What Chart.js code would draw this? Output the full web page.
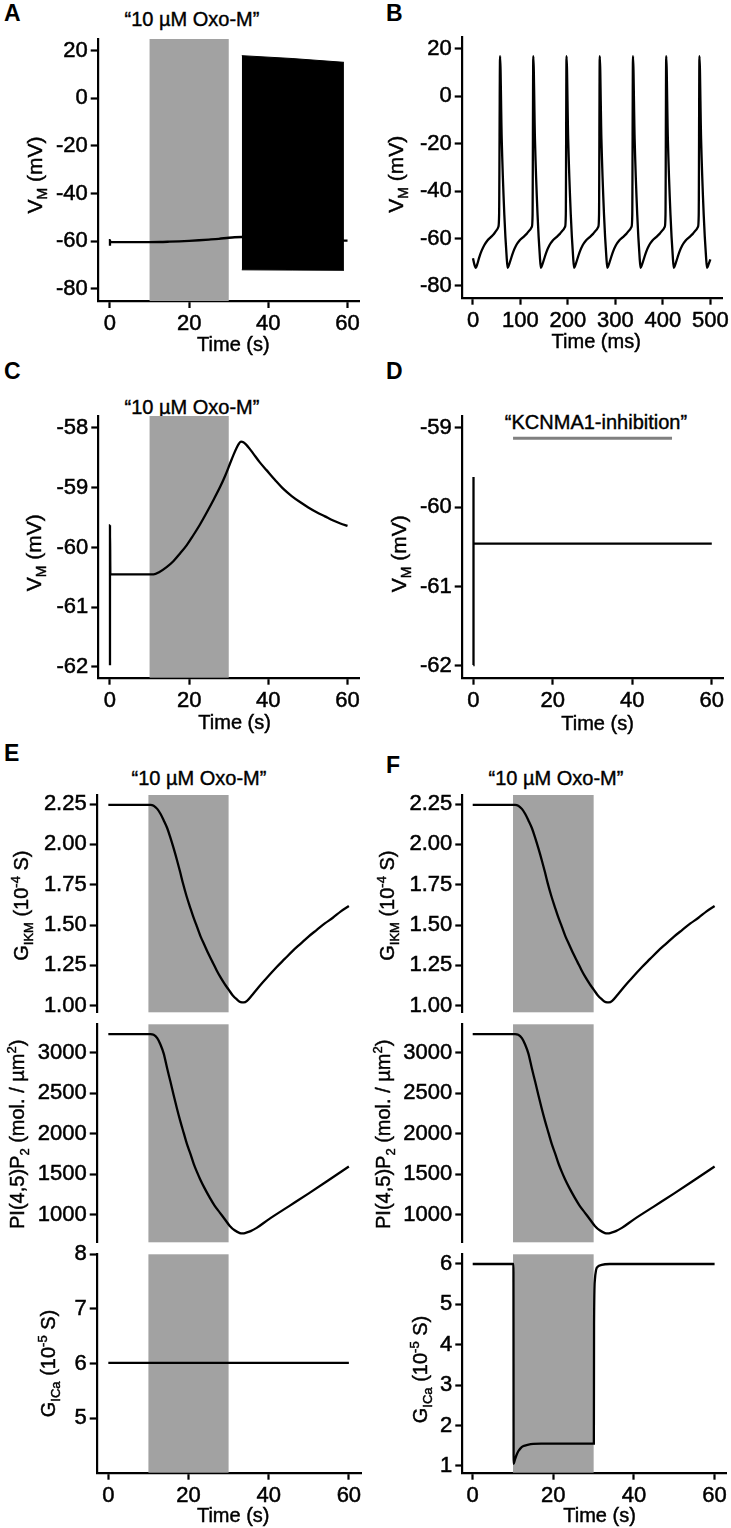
<!DOCTYPE html>
<html><head><meta charset="utf-8">
<script src="https://cdn.jsdelivr.net/npm/chart.js@4.4.0/dist/chart.umd.min.js"></script>
<style>
html,body{margin:0;padding:0;background:#fff;}
body{width:731px;height:1528px;position:relative;overflow:hidden;font-family:"Liberation Sans",Arial,sans-serif;color:#000;}
canvas{position:absolute;}
.lbl{position:absolute;font-weight:bold;font-size:23px;line-height:23px;white-space:nowrap;}
.ttl{position:absolute;font-size:20px;line-height:20px;text-align:center;width:240px;white-space:nowrap;-webkit-text-stroke:0.4px #000;}
</style></head><body>
<div class="lbl" style="left:4px;top:2px">A</div>
<div class="lbl" style="left:386px;top:2px">B</div>
<div class="lbl" style="left:4px;top:360px">C</div>
<div class="lbl" style="left:386px;top:360px">D</div>
<div class="lbl" style="left:4px;top:742px">E</div>
<div class="lbl" style="left:386px;top:754px">F</div>
<div class="ttl" style="left:72px;top:9px">“10 µM Oxo-M”</div>
<div class="ttl" style="left:72px;top:397px">“10 µM Oxo-M”</div>
<div class="ttl" style="left:476px;top:412px">“KCNMA1-inhibition”</div>
<div class="ttl" style="left:79px;top:768px">“10 µM Oxo-M”</div>
<div class="ttl" style="left:436px;top:768px">“10 µM Oxo-M”</div>
<script>
const FONT = '"Liberation Sans", Arial, sans-serif';
Chart.defaults.font.family = FONT;
Chart.defaults.color = '#000';

// ---------- shared ----------
const stimWindow = [10, 30];            // Oxo-M application (s)
const inhibitionWindow = [10, 50];      // KCNMA1 inhibition (s)
const inhibitionBarLevel = -59.13;      // mV level of the bar
const timeTicks60 = [0, 20, 40, 60];

// ---------- Panel A ----------
const aTraceTime = [0, 0, 0.1, 5, 10, 12.5, 15, 17.5, 20, 22.5, 25, 27.5, 30, 31.5, 33.3, 59.1, 60];
const aTraceVm   = [-62.0, -59.6, -60.45, -60.45, -60.45, -60.41, -60.28, -60.12, -59.92, -59.68, -59.38, -59.05, -58.62, -58.42, -58.3, -59.8, -59.8];
const aBurstTime   = [33.3, 46, 59.1];
const aBurstTop    = [17.9, 16.7, 15.1];
const aBurstBottom = [-72.1, -72.2, -72.3];
const aYTicks = [-80, -60, -40, -20, 0, 20];

// ---------- Panel B ----------
const bTime = [0, 3, 6, 9, 13, 18, 24, 30, 37, 44, 50, 53.5, 55, 57, 60.5, 66, 71, 73,
  76, 80, 85, 91, 98, 105, 113, 120, 124, 125.5, 127, 130.5, 136, 141, 143,
  146, 150, 155, 161, 168, 175, 183, 190, 194, 195.5, 197, 200.5, 206, 211, 213,
  216, 220, 225, 231, 238, 245, 253, 260, 264, 265.5, 267, 270.5, 276, 281, 283,
  286, 290, 295, 301, 308, 315, 323, 330, 334, 335.5, 337, 340.5, 346, 351, 353,
  356, 360, 365, 371, 378, 385, 393, 400, 404, 405.5, 407, 410.5, 416, 421, 423,
  426, 430, 435, 441, 448, 455, 463, 470, 474, 475.5, 477, 480.5, 486, 491, 493,
  496, 500];
const bVm = [-68.3, -71.0, -72.3, -70.8, -68.0, -65.2, -62.7, -60.9, -59.5, -58.1, -56.4, -55.0, -50.0, 17.0, -18.0, -50.0, -68.0, -72.3,
  -71.0, -68.5, -65.5, -62.8, -60.8, -59.5, -58.0, -56.3, -55.0, -50.0, 17.0, -18.0, -50.0, -68.0, -72.3,
  -71.0, -68.5, -65.5, -62.8, -60.8, -59.5, -58.0, -56.3, -55.0, -50.0, 17.0, -18.0, -50.0, -68.0, -72.3,
  -71.0, -68.5, -65.5, -62.8, -60.8, -59.5, -58.0, -56.3, -55.0, -50.0, 17.0, -18.0, -50.0, -68.0, -72.3,
  -71.0, -68.5, -65.5, -62.8, -60.8, -59.5, -58.0, -56.3, -55.0, -50.0, 17.0, -18.0, -50.0, -68.0, -72.3,
  -71.0, -68.5, -65.5, -62.8, -60.8, -59.5, -58.0, -56.3, -55.0, -50.0, 17.0, -18.0, -50.0, -68.0, -72.3,
  -71.0, -68.5, -65.5, -62.8, -60.8, -59.5, -58.0, -56.3, -55.0, -50.0, 17.0, -18.0, -50.0, -68.0, -72.3,
  -71.0, -68.8];
const bXTicks = [0, 100, 200, 300, 400, 500];
const bYTicks = [-80, -60, -40, -20, 0, 20];

// ---------- Panel C ----------
const cTime = [0, 0, 0.1, 11, 12.5, 14.3, 16, 17.7, 19.4, 21, 22.7, 24.4, 26.1, 27.8, 29.1, 30.3, 31.2, 32, 32.6, 33.1, 33.7, 34.4, 35.3, 36.2, 37.9, 39.6, 41.7, 43.8, 45.9, 48, 50.1, 52.2, 54.3, 56.4, 58.2, 60];
const cVm   = [-61.97, -59.63, -60.45, -60.45, -60.41, -60.33, -60.23, -60.10, -59.96, -59.80, -59.62, -59.42, -59.21, -58.99, -58.80, -58.60, -58.45, -58.33, -58.26, -58.23, -58.24, -58.28, -58.35, -58.43, -58.58, -58.71, -58.87, -59.02, -59.14, -59.24, -59.33, -59.41, -59.48, -59.55, -59.60, -59.64];
const cYTicks = [-62, -61, -60, -59, -58];

// ---------- Panel D ----------
const dTime = [0, 0, 0.1, 10, 50, 60];
const dVm   = [-61.99, -59.62, -60.46, -60.46, -60.46, -60.46];
const dYTicks = [-62, -61, -60, -59];

// ---------- Panels E/F (top, middle) ----------
const kmTime = [0, 10.5, 11.3, 12.2, 13, 13.8, 14.7, 15.5, 16.3, 17.1, 17.9, 18.6, 19.5, 20.4, 21.2, 22.1, 23, 24, 25, 26, 27, 28, 29, 30, 31, 32, 33, 33.8, 34.6, 36, 38, 40, 42, 44, 46, 48, 50, 52, 54, 56, 58, 60];
const kmG    = [2.245, 2.245, 2.24, 2.22, 2.19, 2.15, 2.10, 2.04, 1.975, 1.905, 1.83, 1.76, 1.68, 1.61, 1.55, 1.49, 1.43, 1.375, 1.32, 1.27, 1.22, 1.175, 1.135, 1.10, 1.065, 1.04, 1.022, 1.02, 1.03, 1.07, 1.13, 1.185, 1.24, 1.29, 1.34, 1.385, 1.43, 1.47, 1.51, 1.545, 1.585, 1.618];
const kmTicks = [1.00, 1.25, 1.50, 1.75, 2.00, 2.25];

const pipTime = [0, 10.5, 11.3, 12.2, 13, 13.8, 14.7, 15.5, 16.3, 17.1, 17.9, 18.8, 19.6, 20.5, 21.3, 22.1, 22.9, 24, 25.3, 26.5, 27.8, 29, 30.3, 31.5, 32.8, 33.5, 34.4, 35.5, 37, 40, 45, 50, 55, 60];
const pipConc = [3227, 3227, 3220, 3178, 3100, 2990, 2800, 2640, 2475, 2315, 2165, 2010, 1875, 1750, 1630, 1530, 1440, 1330, 1213, 1115, 1028, 950, 864, 810, 776, 772, 781, 800, 840, 945, 1105, 1265, 1430, 1597];
const pipTicks = [1000, 1500, 2000, 2500, 3000];

// ---------- E bottom ----------
const eCaTime = [0, 60];
const eCaG    = [6.01, 6.01];
const eCaTicks = [5, 6, 7, 8];

// ---------- F bottom ----------
const fCaTime = [0, 10.1, 10.15, 10.4, 10.8, 11.3, 11.9, 12.6, 13.6, 15, 17, 20, 25, 30.05, 30.1, 30.3, 30.6, 31, 32, 34, 60];
const fCaG    = [6, 6, 1.05, 1.13, 1.25, 1.36, 1.44, 1.49, 1.52, 1.545, 1.55, 1.55, 1.55, 1.55, 4.5, 5.6, 5.85, 5.93, 5.98, 6.0, 6.0];
const fCaTicks = [1, 2, 3, 4, 5, 6];

// ---------- helpers ----------
const LW = 2.3;
const pts = (xs, ys) => xs.map((x, i) => ({x: x, y: ys[i]}));
const trace = (xs, ys, extra) => Object.assign({
  data: pts(xs, ys), borderColor: '#000', borderWidth: LW, pointRadius: 0,
  fill: false, cubicInterpolationMode: 'monotone'
}, extra || {});

function shadePlugin(win, color) {
  return {
    id: 'shade',
    beforeDatasetsDraw(chart) {
      const a = chart.chartArea, x = chart.scales.x, ctx = chart.ctx;
      const x0 = x.getPixelForValue(win[0]), x1 = x.getPixelForValue(win[1]);
      ctx.save(); ctx.fillStyle = color;
      ctx.fillRect(x0, a.top, x1 - x0, a.bottom - a.top);
      ctx.restore();
    }
  };
}
function yTitlePlugin(parts, cx, dy, fs) {
  return {
    id: 'ytitle',
    afterDraw(chart) {
      const ctx = chart.ctx, a = chart.chartArea;
      const cy = (a.top + a.bottom) / 2 + dy;
      const small = Math.round(fs * 0.65);
      const fontFor = t => (t === 'n' ? fs : small) + 'px ' + FONT;
      ctx.save();
      ctx.translate(cx + 0.358 * fs, cy);
      ctx.rotate(-Math.PI / 2);
      ctx.fillStyle = '#000'; ctx.strokeStyle = '#000'; ctx.lineWidth = 0.45;
      ctx.textBaseline = 'alphabetic'; ctx.textAlign = 'left';
      let total = 0;
      parts.forEach(p => { ctx.font = fontFor(p[0]); total += ctx.measureText(p[1]).width; });
      let x = -total / 2;
      parts.forEach(p => {
        ctx.font = fontFor(p[0]);
        const off = p[0] === 'b' ? 0.24 * fs : (p[0] === 'p' ? -0.42 * fs : 0);
        ctx.fillText(p[1], x, off);
        ctx.strokeText(p[1], x, off);
        x += ctx.measureText(p[1]).width;
      });
      ctx.restore();
    }
  };
}
// x-axis title drawn below the tick labels
function xTitlePlugin(text, dx, capTop) {
  return {
    id: 'xtitle',
    afterDraw(chart) {
      const ctx = chart.ctx, a = chart.chartArea, fs = 20;
      ctx.save();
      ctx.font = fs + 'px ' + FONT;
      ctx.fillStyle = '#000'; ctx.strokeStyle = '#000'; ctx.lineWidth = 0.45;
      ctx.textAlign = 'center'; ctx.textBaseline = 'alphabetic';
      const x = (a.left + a.right) / 2 + dx, y = a.bottom + capTop + 0.716 * fs;
      ctx.fillText(text, x, y); ctx.strokeText(text, x, y);
      ctx.restore();
    }
  };
}
const axisGrid = {display: true, drawOnChartArea: false, drawTicks: true, tickLength: 7, tickWidth: 2.2, tickColor: '#000', color: '#000'};
const axisBorder = {display: true, color: '#000', width: 2.2};
const XH = 55, YW = 62;
const tickFont = {size: 22};

function xScale(min, max, ticks, show) {
  return {
    type: 'linear', min: min, max: max, display: show,
    afterBuildTicks: s => { s.ticks = ticks.map(v => ({value: v})); },
    afterFit: s => { s.height = show ? XH : 0; s.paddingLeft = 0; s.paddingRight = 0; },
    grid: axisGrid, border: axisBorder,
    ticks: {autoSkip: false, maxRotation: 0, minRotation: 0, padding: 3, font: tickFont, color: '#000',
            textStrokeColor: '#000', textStrokeWidth: 0.5, callback: v => String(v)},
    title: {display: false}
  };
}
function yScale(min, max, ticks, fmt) {
  return {
    type: 'linear', min: min, max: max,
    afterBuildTicks: s => { s.ticks = ticks.map(v => ({value: v})); },
    afterFit: s => { s.width = YW; s.paddingTop = 0; s.paddingBottom = 0; },
    grid: axisGrid, border: axisBorder,
    ticks: {autoSkip: false, padding: 3, font: tickFont, color: '#000',
            textStrokeColor: '#000', textStrokeWidth: 0.5, callback: fmt || (v => String(v))}
  };
}

// box: canvas left/top/width/height and target chart area (page px)
function panel(box, xs, ys, datasets, plugins) {
  const cv = document.createElement('canvas');
  cv.width = box.cw; cv.height = box.ch;
  cv.style.left = box.cl + 'px'; cv.style.top = box.ct + 'px';
  cv.style.width = box.cw + 'px'; cv.style.height = box.ch + 'px';
  document.body.appendChild(cv);
  const showX = xs.display !== false;
  const padding = {
    left: box.l - box.cl - YW,
    right: box.cl + box.cw - box.r,
    top: box.t - box.ct,
    bottom: box.ct + box.ch - box.b - (showX ? XH : 0)
  };
  new Chart(cv, {
    type: 'line',
    data: {datasets: datasets},
    options: {
      responsive: false, animation: false, events: [],
      devicePixelRatio: 1,
      layout: {padding: padding},
      scales: {x: xs, y: ys},
      plugins: {legend: {display: false}, tooltip: {enabled: false}}
    },
    plugins: plugins
  });
}

const GRAY = '#a2a2a2';
const VM = [['n', 'V'], ['b', 'M'], ['n', ' (mV)']];
const GKM = [['n', 'G'], ['b', 'IKM'], ['n', ' (10'], ['p', '-4'], ['n', ' S)']];
const PIP = [['n', 'PI(4,5)P'], ['b', '2'], ['n', ' (mol. / µm'], ['p', '2'], ['n', ')']];
const GCA = [['n', 'G'], ['b', 'ICa'], ['n', ' (10'], ['p', '-5'], ['n', ' S)']];

// A
panel({cl: 0, ct: 28, cw: 366, ch: 334, l: 97.7, r: 359, t: 39, b: 301},
  xScale(-3.1, 62.9, timeTicks60, true),
  yScale(-85.2, 24.9, aYTicks),
  [trace(aTraceTime, aTraceVm),
   {data: pts(aBurstTime, aBurstTop), borderColor: '#000', borderWidth: 1, pointRadius: 0, fill: '+1', backgroundColor: '#000', tension: 0},
   {data: pts(aBurstTime, aBurstBottom), borderColor: '#000', borderWidth: 1, pointRadius: 0, fill: false, tension: 0}],
  [shadePlugin(stimWindow, GRAY), yTitlePlugin(VM, 34, 5, 21), xTitlePlugin('Time (s)', 5, 36)]);

// B
panel({cl: 366, ct: 28, cw: 365, ch: 334, l: 461.7, r: 722.7, t: 37, b: 297.7},
  xScale(-23.8, 526, bXTicks, true),
  yScale(-84.94, 25.06, bYTicks),
  [trace(bTime, bVm)],
  [yTitlePlugin(VM, 29, 7, 21), xTitlePlugin('Time (ms)', 4, 35.5)]);

// C
panel({cl: 0, ct: 405, cw: 366, ch: 340, l: 98.3, r: 359, t: 416, b: 677.7},
  xScale(-2.95, 62.9, timeTicks60, true),
  yScale(-62.18, -57.80, cYTicks),
  [trace(cTime, cVm)],
  [shadePlugin(stimWindow, GRAY), yTitlePlugin(VM, 33, 6, 21), xTitlePlugin('Time (s)', 6, 37)]);

// D
panel({cl: 366, ct: 405, cw: 365, ch: 340, l: 461.7, r: 723.3, t: 416, b: 677.7},
  xScale(-2.92, 62.9, timeTicks60, true),
  yScale(-62.15, -58.85, dYTicks),
  [trace(dTime, dVm, {cubicInterpolationMode: 'default', tension: 0}),
   {data: pts(inhibitionWindow, [inhibitionBarLevel, inhibitionBarLevel]), borderColor: '#808080', borderWidth: 3, pointRadius: 0, fill: false}],
  [yTitlePlugin(VM, 32, 7, 21), xTitlePlugin('Time (s)', 5, 38)]);

// E and F stacks
function stack(cl, cw, l, r, xmin, xmax, caData, caTicks, caMin, caMax, caX, caDy, tdx) {
  panel({cl: cl, ct: 782, cw: cw, ch: 238, l: l, r: r, t: 795, b: 1012.3},
    xScale(xmin, xmax, timeTicks60, false),
    yScale(0.959, 2.306, kmTicks, v => v.toFixed(2)),
    [trace(kmTime, kmG)],
    [shadePlugin(stimWindow, GRAY), yTitlePlugin(GKM, 21, 2, 20)]);
  panel({cl: cl, ct: 1010, cw: cw, ch: 240, l: l, r: r, t: 1024.3, b: 1242.3},
    xScale(xmin, xmax, timeTicks60, false),
    yScale(662, 3349, pipTicks),
    [trace(pipTime, pipConc)],
    [shadePlugin(stimWindow, GRAY), yTitlePlugin(PIP, 17, 1, 20)]);
  panel({cl: cl, ct: 1238, cw: cw, ch: 290, l: l, r: r, t: 1254.3, b: 1472.7},
    xScale(xmin, xmax, timeTicks60, true),
    yScale(caMin, caMax, caTicks),
    [caData],
    [shadePlugin(stimWindow, GRAY), yTitlePlugin(GCA, caX, caDy, 20), xTitlePlugin('Time (s)', tdx, 34.5)]);
}
stack(0, 366, 96.7, 361.7, -2.9, 63.2, trace(eCaTime, eCaG, {cubicInterpolationMode: 'default', tension: 0}), eCaTicks, 4, 8, 48, 0, 4);
stack(366, 365, 462.3, 726.7, -2.58, 63.0, trace(fCaTime, fCaG), fCaTicks, 0.83, 6.24, 54, 6, 5);
</script>
</body></html>
